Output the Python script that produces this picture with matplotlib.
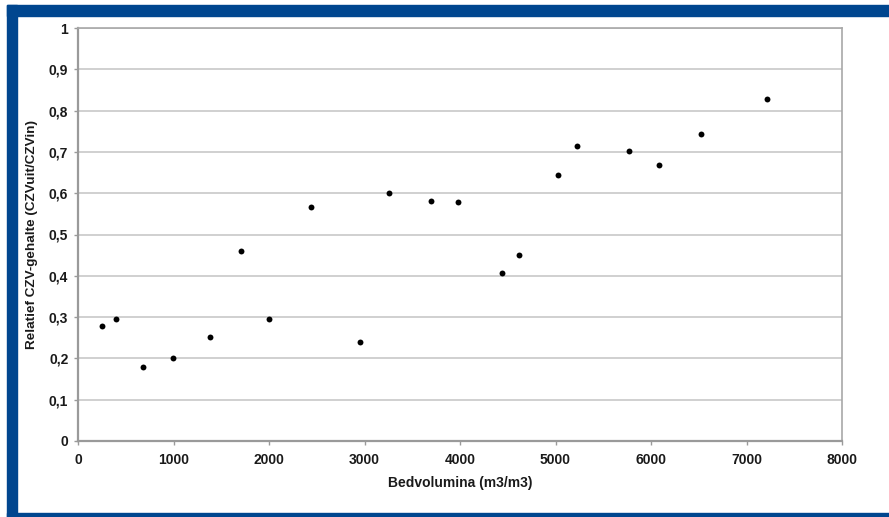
import matplotlib
matplotlib.use("Agg")
import matplotlib.pyplot as plt
from matplotlib.patches import Rectangle
from matplotlib.ticker import FuncFormatter

plt.rcParams['font.family'] = ['Liberation Sans', 'DejaVu Sans']

# bed volumes (m3/m3) and relative COD content
bedvolumes = [251, 398, 685, 995, 1385, 1705, 2005, 2435, 2950, 3260,
              3700, 3980, 4445, 4620, 5030, 5220, 5770, 6085, 6525, 7215]
rel_czv = [0.278, 0.295, 0.179, 0.200, 0.251, 0.460, 0.295, 0.567, 0.240, 0.601,
           0.582, 0.578, 0.406, 0.450, 0.644, 0.715, 0.701, 0.668, 0.744, 0.829]

x_ticks = [0, 1000, 2000, 3000, 4000, 5000, 6000, 7000, 8000]
y_ticks = [0, 0.1, 0.2, 0.3, 0.4, 0.5, 0.6, 0.7, 0.8, 0.9, 1.0]

W, H = 889, 517
fig = plt.figure(figsize=(W / 100, H / 100), dpi=100)
fig.patch.set_facecolor('white')

blue = '#00468f'
# blue frame around the chart (right side is cut off in the original)
fig.patches.append(Rectangle((7 / W, 0), 10 / W, 1 - 5 / H, transform=fig.transFigure,
                             color=blue, zorder=0))
fig.patches.append(Rectangle((7 / W, 1 - 16 / H), 1, 11 / H, transform=fig.transFigure,
                             color=blue, zorder=0))
fig.patches.append(Rectangle((7 / W, 0), 1, 4 / H, transform=fig.transFigure,
                             color=blue, zorder=0))

ax = fig.add_axes([78 / W, (H - 441) / H, (842 - 78) / W, (441 - 28) / H])

ax.scatter(bedvolumes, rel_czv, s=18, color='black', zorder=3, linewidths=0)

ax.set_xlim(0, 8000)
ax.set_ylim(0, 1)
ax.set_xticks(x_ticks)
ax.set_yticks(y_ticks)
ax.yaxis.set_major_formatter(FuncFormatter(
    lambda v, p: '0' if v == 0 else ('1' if v == 1 else f'{v:.1f}'.replace('.', ','))))

ax.grid(axis='y', color='#c8c8c8', linewidth=1.2)
ax.set_axisbelow(True)
for side in ['left', 'bottom']:
    ax.spines[side].set_color('#9a9a9a')
    ax.spines[side].set_linewidth(1.6)
for side in ['top', 'right']:
    ax.spines[side].set_color('#a8a8a8')
    ax.spines[side].set_linewidth(1.2)

ax.tick_params(axis='both', colors='#9a9a9a', length=3, width=1, labelcolor='#1a1a1a',
               labelsize=10)
ax.tick_params(axis='x', pad=6)
ax.tick_params(axis='y', pad=4)
for lab in ax.get_xticklabels() + ax.get_yticklabels():
    lab.set_fontweight('bold')

ax.set_xlabel('Bedvolumina (m3/m3)', fontsize=10, fontweight='bold', color='#1a1a1a',
              labelpad=6)
ax.set_ylabel('Relatief CZV-gehalte (CZVuit/CZVin)', fontsize=9.7, fontweight='bold',
              color='#1a1a1a', labelpad=8)

fig.savefig('out.png', dpi=100)
